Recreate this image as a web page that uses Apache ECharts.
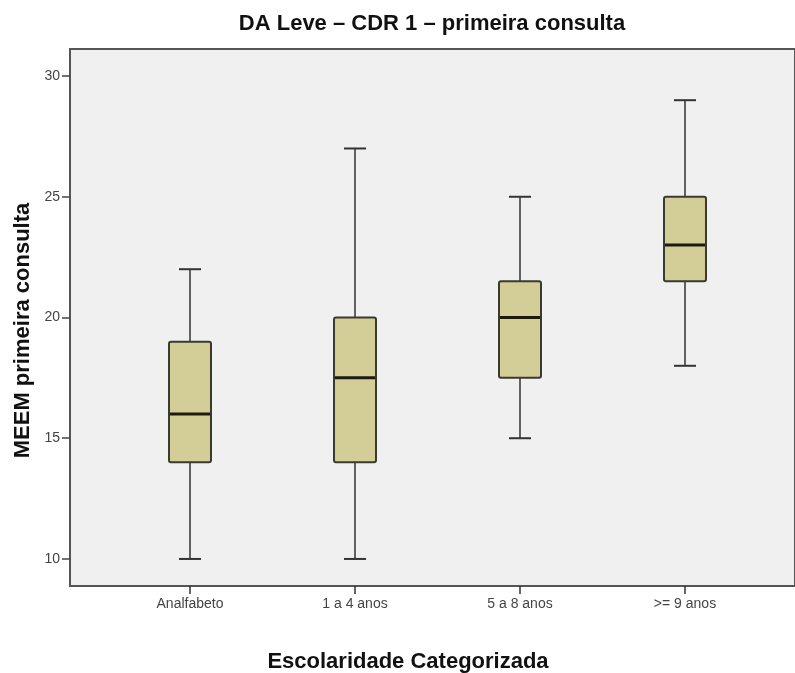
<!DOCTYPE html>
<html>
<head>
<meta charset="utf-8">
<script src="https://cdn.jsdelivr.net/npm/echarts@6/dist/echarts.min.js"></script>
<style>html,body{margin:0;padding:0;background:#fff;}#c{width:795px;height:673px;}</style>
</head>
<body>
<div id="c"></div>
<script>
// Data
const categories = ['Analfabeto', '1 a 4 anos', '5 a 8 anos', '>= 9 anos'];
const whiskerLow = [10, 10, 15, 18];
const q1 = [14, 14, 17.5, 21.5];
const median = [16, 17.5, 20, 23];
const q3 = [19, 20, 21.5, 25];
const whiskerHigh = [22, 27, 25, 29];
const yTicks = [10, 15, 20, 25, 30];

const titleText = 'DA Leve \u2013 CDR 1 \u2013 primeira consulta';
const xName = 'Escolaridade Categorizada';
const yName = 'MEEM primeira consulta';

const boxData = categories.map((c, i) => [i, whiskerLow[i], q1[i], median[i], q3[i], whiskerHigh[i]]);

const FONT = 'Liberation Sans, Arial, sans-serif';
const yMin = 8.88, yMax = 31.12;

const chart = echarts.init(document.getElementById('c'));
chart.setOption({
  animation: false,
  backgroundColor: '#ffffff',
  title: [
    { text: titleText, left: 427, top: 8, textAlign: 'center',
      textStyle: { fontFamily: FONT, fontSize: 22, fontWeight: 'bold', color: '#111' } },
    { text: xName, left: 403, top: 646, textAlign: 'center',
      textStyle: { fontFamily: FONT, fontSize: 22, fontWeight: 'bold', color: '#111' } }
  ],
  grid: [
    { left: 70, right: -20, top: 49, bottom: 87, show: true, backgroundColor: '#f0f0f0',
      borderColor: '#555', borderWidth: 2 },
    { left: 107.5, width: 660, top: 49, bottom: 87 }
  ],
  xAxis: [
    { type: 'value', gridIndex: 0, show: false, min: 0, max: 1 },
    { type: 'category', gridIndex: 1, data: categories, boundaryGap: true,
      axisLine: { show: false },
      axisTick: { show: true, alignWithLabel: true, length: 8, lineStyle: { color: '#333', width: 1.5 } },
      axisLabel: { margin: 11, fontFamily: FONT, fontSize: 14, color: '#444' },
      splitLine: { show: false } }
  ],
  yAxis: [
    { type: 'value', gridIndex: 0, min: yMin, max: yMax,
      name: yName, nameLocation: 'middle', nameGap: 36, nameRotate: 90,
      nameTextStyle: { fontFamily: FONT, fontSize: 22, fontWeight: 'bold', color: '#111', padding: [0, 26, 0, 0] },
      axisLine: { show: false },
      axisTick: { show: true, length: 8, customValues: yTicks, lineStyle: { color: '#444', width: 1.5 } },
      axisLabel: { margin: 10, customValues: yTicks, fontFamily: FONT, fontSize: 14, color: '#444' },
      splitLine: { show: false } },
    { type: 'value', gridIndex: 1, min: yMin, max: yMax, show: false, splitLine: { show: false } }
  ],
  series: [{
    type: 'custom',
    xAxisIndex: 1, yAxisIndex: 1,
    data: boxData,
    renderItem: function (params, api) {
      const x = api.value(0);
      const pLow = api.coord([x, api.value(1)]);
      const pQ1 = api.coord([x, api.value(2)]);
      const pMed = api.coord([x, api.value(3)]);
      const pQ3 = api.coord([x, api.value(4)]);
      const pHigh = api.coord([x, api.value(5)]);
      const cx = pMed[0];
      const hw = 21, cw = 11;
      const lineStyle = { stroke: '#333', lineWidth: 1.5 };
      return {
        type: 'group',
        children: [
          { type: 'line', shape: { x1: cx, y1: pHigh[1], x2: cx, y2: pQ3[1] }, style: lineStyle },
          { type: 'line', shape: { x1: cx, y1: pQ1[1], x2: cx, y2: pLow[1] }, style: lineStyle },
          { type: 'line', shape: { x1: cx - cw, y1: pHigh[1], x2: cx + cw, y2: pHigh[1] }, style: { stroke: '#333', lineWidth: 2 } },
          { type: 'line', shape: { x1: cx - cw, y1: pLow[1], x2: cx + cw, y2: pLow[1] }, style: { stroke: '#333', lineWidth: 2 } },
          { type: 'rect', shape: { x: cx - hw, y: pQ3[1], width: 2 * hw, height: pQ1[1] - pQ3[1], r: 2 },
            style: { fill: '#d3ce97', stroke: '#3a3a30', lineWidth: 2 } },
          { type: 'line', shape: { x1: cx - hw + 1, y1: pMed[1], x2: cx + hw - 1, y2: pMed[1] },
            style: { stroke: '#1e1a10', lineWidth: 3 } }
        ]
      };
    }
  }]
});
</script>
</body>
</html>
